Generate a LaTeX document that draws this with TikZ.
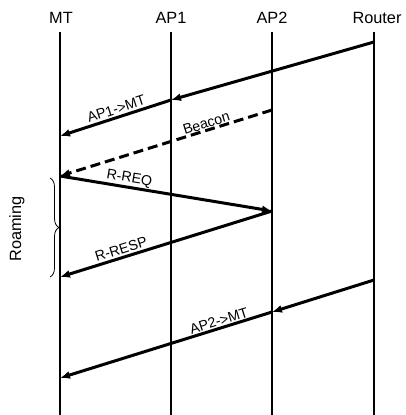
\documentclass[tikz,border=0pt]{standalone}
\usepackage{fontspec}
\setmainfont{Liberation Sans}
\usetikzlibrary{arrows.meta,decorations.pathreplacing}
\begin{document}
\begin{tikzpicture}[x=1pt,y=-1pt,
  head/.style={font=\fontsize{16.3pt}{17pt}\selectfont, inner sep=0pt},
  life/.style={line width=1.6pt},
  msg/.style={line width=3pt, -{Latex[length=10pt,width=8pt]}},
  dmsg/.style={msg, dash pattern=on 10pt off 5pt},
  lbl/.style={font=\fontsize{14.2pt}{15pt}\selectfont, sloped, above, inner sep=2pt}]
\useasboundingbox (0,0) rectangle (406,415);
% headers
\node[head] (MT) at (61,18) {MT};
\node[head] (AP1) at (171,18) {AP1};
\node[head] (AP2) at (272,18) {AP2};
\node[head] (R) at (377,18) {Router};
% lifelines
\coordinate (mt0) at (60,32);  \coordinate (mt1) at (60,415);
\coordinate (a10) at (171,32); \coordinate (a11) at (171,415);
\coordinate (a20) at (272,32); \coordinate (a21) at (272,415);
\coordinate (r0) at (374,32);  \coordinate (r1) at (374,415);
\draw[life] (mt0) -- (mt1);
\draw[life] (a10) -- (a11);
\draw[life] (a20) -- (a21);
\draw[life] (r0) -- (r1);
% message points
\coordinate (p1) at (374,42);
\coordinate (p2) at (171,100);
\coordinate (p3) at (60,136);
\coordinate (p4) at (272,110);
\coordinate (p5) at (60,176);
\coordinate (p6) at (272,211);
\coordinate (p7) at (60,277);
\coordinate (p8) at (374,280);
\coordinate (p9) at (272,312);
\coordinate (p10) at (60,378);
% messages
\draw[msg] (p1) -- (p2);
\draw[msg] (p2) -- node[lbl, pos=0.47] {AP1->MT} (p3);
\draw[dmsg] (p4) -- node[lbl, pos=0.3, inner sep=0.5pt] {Beacon} (p5);
\draw[msg] (p5) -- node[lbl, pos=0.32, inner sep=1pt] {R-REQ} (p6);
\draw[msg] (p6) -- node[lbl, pos=0.7] {R-RESP} (p7);
\draw[msg] (p8) -- (p9);
\draw[msg] (p9) -- node[lbl, pos=0.24, inner sep=1pt] {AP2->MT} (p10);
% brace
\coordinate (b0) at (50,178);
\coordinate (b1) at (50,277);
\draw[line width=0.8pt, decorate, decoration={brace, amplitude=9pt}] (b0) -- (b1);
\node[font=\fontsize{16.3pt}{17pt}\selectfont, rotate=90, inner sep=0pt] (roam) at (17,229) {Roaming};
\end{tikzpicture}
\end{document}
